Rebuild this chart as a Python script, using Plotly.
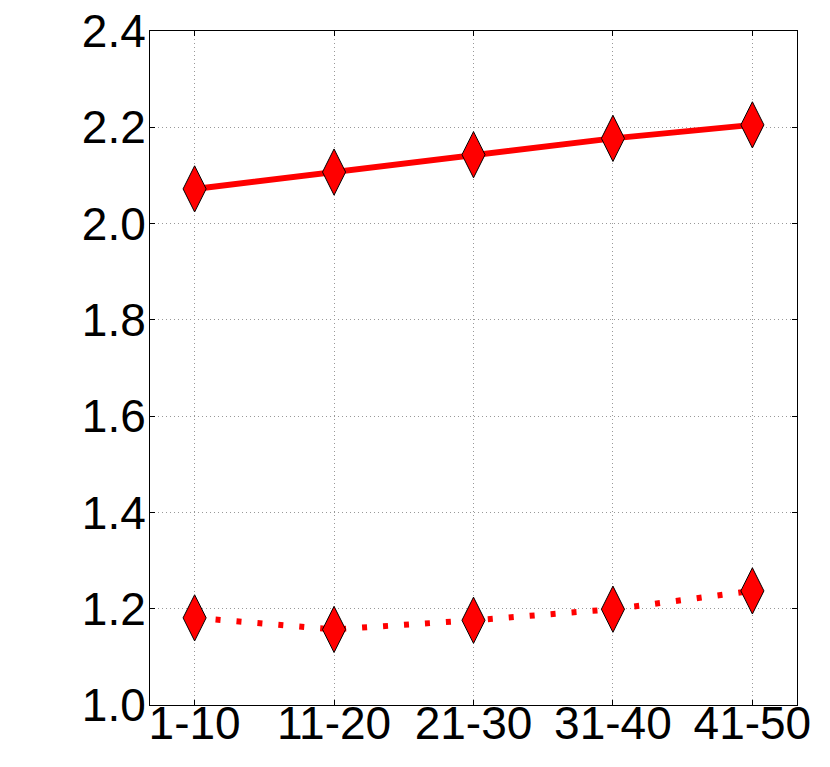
import plotly.graph_objects as go

categories = ["1-10", "11-20", "21-30", "31-40", "41-50"]
solid_vals = [2.072, 2.107, 2.143, 2.177, 2.205]
dotted_vals = [1.181, 1.157, 1.176, 1.199, 1.237]
y_ticks = [1.0, 1.2, 1.4, 1.6, 1.8, 2.0, 2.2, 2.4]

marker = dict(symbol="diamond-tall", size=33, color="red",
              line=dict(color="black", width=1))

fig = go.Figure()
fig.add_trace(go.Scatter(x=categories, y=solid_vals, mode="lines+markers",
                         line=dict(color="red", width=6), marker=marker))
fig.add_trace(go.Scatter(x=categories, y=dotted_vals, mode="lines+markers",
                         line=dict(color="red", width=6, dash="5px,16px"),
                         marker=marker))

axis_style = dict(showline=True, linecolor="black", linewidth=1, mirror="ticks",
                  ticks="inside", ticklen=5, tickcolor="black",
                  showgrid=True, gridcolor="#999999", griddash="1px,3px", gridwidth=1,
                  zeroline=False, automargin=False,
                  tickfont=dict(family="Liberation Sans, Arial", size=46, color="black"))

fig.update_xaxes(type="category", range=[-0.32, 4.32], ticklabelstandoff=-22, **axis_style)
fig.update_yaxes(range=[1.0, 2.4], tickvals=y_ticks, tickformat=".1f",
                 ticklabelstandoff=-6, **axis_style)

fig.update_layout(width=830, height=767, showlegend=False,
                  plot_bgcolor="white", paper_bgcolor="white",
                  margin=dict(l=150, r=33, t=31, b=62))

# drop the default 8px body margin so the figure sits at the page corner
fig.write_html("out.html", config={"displayModeBar": False},
               post_script="document.body.style.margin='0';document.body.style.overflow='hidden';")
